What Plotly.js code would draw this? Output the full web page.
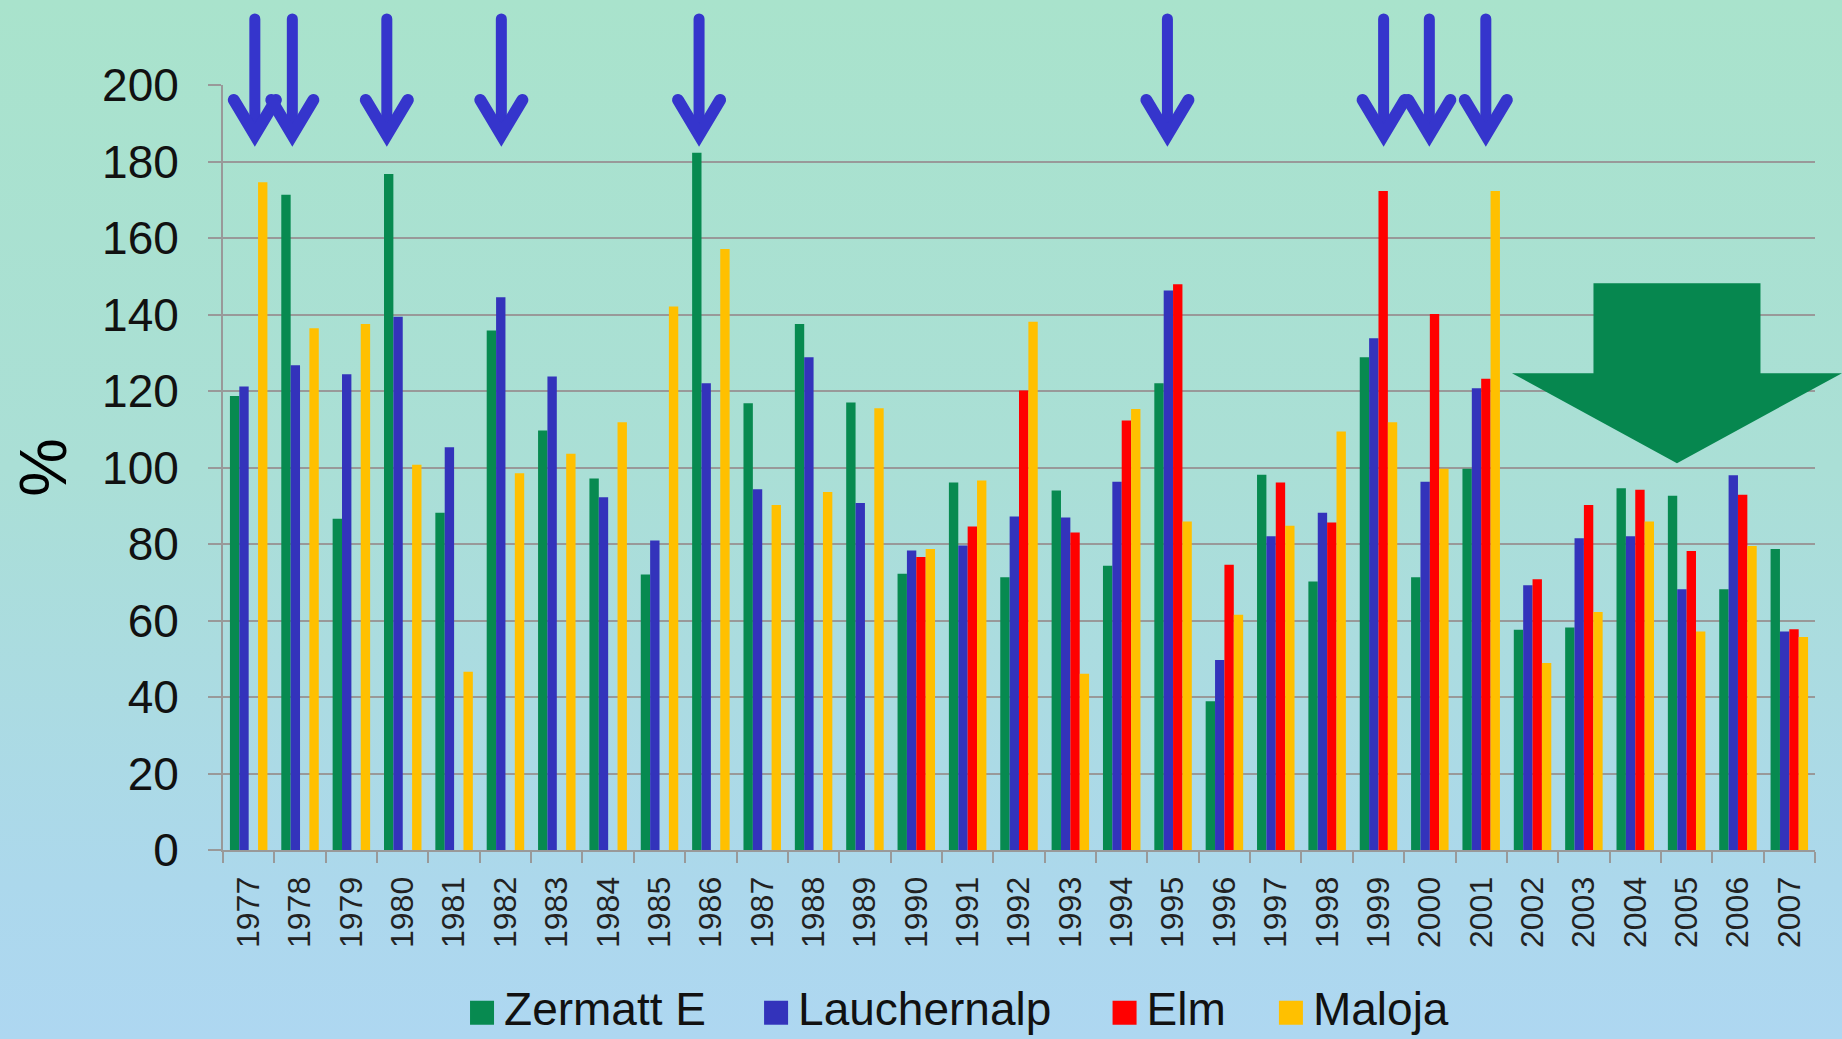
<!DOCTYPE html>
<html>
<head>
<meta charset="utf-8">
<script src="https://cdn.plot.ly/plotly-3.0.1.min.js"></script>
<style>
  html, body { margin:0; padding:0; }
  body { width:1842px; height:1039px; overflow:hidden;
         background: linear-gradient(to bottom, #a9e3cc 0%, #aadfd6 45%, #acd8ec 85%, #aed7f1 100%); }
  #chart { width:1842px; height:1039px; }
  .shapelayer path { stroke-linecap: round; stroke-linejoin: miter; }
  .legendpoints path { d: path("M10,18H-14V-6H10Z"); }
</style>
</head>
<body>
<div id="chart"></div>
<script>
// ---- data ----
const years = ['1977','1978','1979','1980','1981','1982','1983','1984','1985','1986',
               '1987','1988','1989','1990','1991','1992','1993','1994','1995','1996',
               '1997','1998','1999','2000','2001','2002','2003','2004','2005','2006','2007'];

const zermattE = [118.7,171.3,86.6,176.7,88.2,135.8,109.7,97.1,72.0,182.3,
                  116.8,137.5,117.0,72.2,96.1,71.3,94.0,74.3,122.0,38.9,
                  98.1,70.2,128.8,71.3,99.7,57.6,58.2,94.6,92.6,68.2,78.7];

const lauchernalp = [121.2,126.7,124.4,139.4,105.3,144.5,123.8,92.2,80.9,122.0,
                     94.3,128.8,90.7,78.3,79.6,87.2,86.9,96.3,146.3,49.7,
                     82.0,88.2,133.8,96.3,120.7,69.2,81.5,82.0,68.2,98.0,57.1];

const elm = [null,null,null,null,null,null,null,null,null,null,
             null,null,null,76.6,84.6,120.1,83.0,112.3,147.9,74.6,
             96.1,85.6,172.3,140.1,123.2,70.8,90.2,94.2,78.2,92.9,57.7];

const maloja = [174.6,136.4,137.5,100.7,46.6,98.5,103.6,111.8,142.1,157.1,
                90.2,93.6,115.5,78.7,96.6,138.1,46.1,115.3,85.9,61.5,
                84.8,109.4,111.8,99.7,172.3,48.9,62.2,85.9,57.1,79.5,55.7];

const seriesNames = ['Zermatt E','Lauchernalp','Elm','Maloja'];

// years highlighted by the blue arrows (with a small shift inside the year's group)
const arrowYears   = ['1977','1978','1980','1982','1986','1995','1999','2000','2001'];
const arrowShifts  = [0.12, -0.15, -0.31, -0.08, -0.23, -0.11, 0.10, -0.01, 0.09];

// ---- styling ----
const colors = ['#078a50','#3333bb','#ff0000','#ffc000'];
const values = [zermattE, lauchernalp, elm, maloja];
const legendIds = ['legend','legend2','legend3','legend4'];
const legendX = [0.1514, 0.3361, 0.555, 0.6595];

const traces = values.map((v, i) => ({
  type:'bar', name: seriesNames[i], x: years, y: v, legend: legendIds[i],
  marker:{ color: colors[i], line:{ width:0 } },
  hoverinfo:'skip'
}));

const arrowBlue = '#3535cc';
const shapes = [];
arrowYears.forEach((yr, k) => {
  const xa = years.indexOf(yr) + arrowShifts[k];
  shapes.push({ type:'path', xref:'x', yref:'paper', xsizemode:'pixel', ysizemode:'pixel',
    xanchor: xa, yanchor: 1, path:'M0,66 L0,-48', line:{ color: arrowBlue, width: 11 } });
  shapes.push({ type:'path', xref:'x', yref:'paper', xsizemode:'pixel', ysizemode:'pixel',
    xanchor: xa, yanchor: 1, path:'M-21,-15 L0,-50 L21,-15', line:{ color: arrowBlue, width: 12 } });
});
// big green downward arrow (decoration, anchored by its tip)
shapes.push({ type:'path', xref:'paper', yref:'paper', xsizemode:'pixel', ysizemode:'pixel',
  xanchor: 0.9133, yanchor: 0.5057,
  path:'M0,0 L-165,90 L-83.5,90 L-83.5,180 L83.5,180 L83.5,90 L165,90 Z',
  fillcolor:'#06874f', line:{ width:0 }, layer:'above' });

const layout = {
  width:1842, height:1039,
  paper_bgcolor:'rgba(0,0,0,0)', plot_bgcolor:'rgba(0,0,0,0)',
  margin:{ l:223, r:27, t:85, b:189, autoexpand:false },
  barmode:'group', bargap:0.27, bargroupgap:0,
  font:{ family:'"Liberation Sans", Arial, sans-serif', color:'#111' },
  showlegend:true,
  xaxis:{ type:'category', tickangle:-90, tickfont:{ size:32, color:'#222' },
          showline:true, linecolor:'#999999', linewidth:2,
          ticks:'outside', tickson:'boundaries', ticklen:11, tickcolor:'#999999', tickwidth:2,
          ticklabelstandoff:12,
          showgrid:false, zeroline:false, automargin:false },
  yaxis:{ range:[0,200], tick0:0, dtick:20, showgrid:true, gridcolor:'#999999', gridwidth:2,
          showline:true, linecolor:'#999999', linewidth:2, zeroline:false,
          ticks:'outside', ticklen:13, tickcolor:'#999999', tickwidth:2,
          ticklabelstandoff:20,
          tickfont:{ size:46, color:'#111' }, automargin:false,
          title:{ text:'%', font:{ size:66, color:'#000' }, standoff:14 } },
  shapes: shapes
};
legendIds.forEach((id, i) => {
  layout[id] = { orientation:'h', x: legendX[i], xanchor:'left', y:-0.205, yanchor:'middle',
                 font:{ size:46, color:'#111' }, bgcolor:'rgba(0,0,0,0)', borderwidth:0 };
});

Plotly.newPlot('chart', traces, layout, { staticPlot:true, displayModeBar:false });
</script>
</body>
</html>
